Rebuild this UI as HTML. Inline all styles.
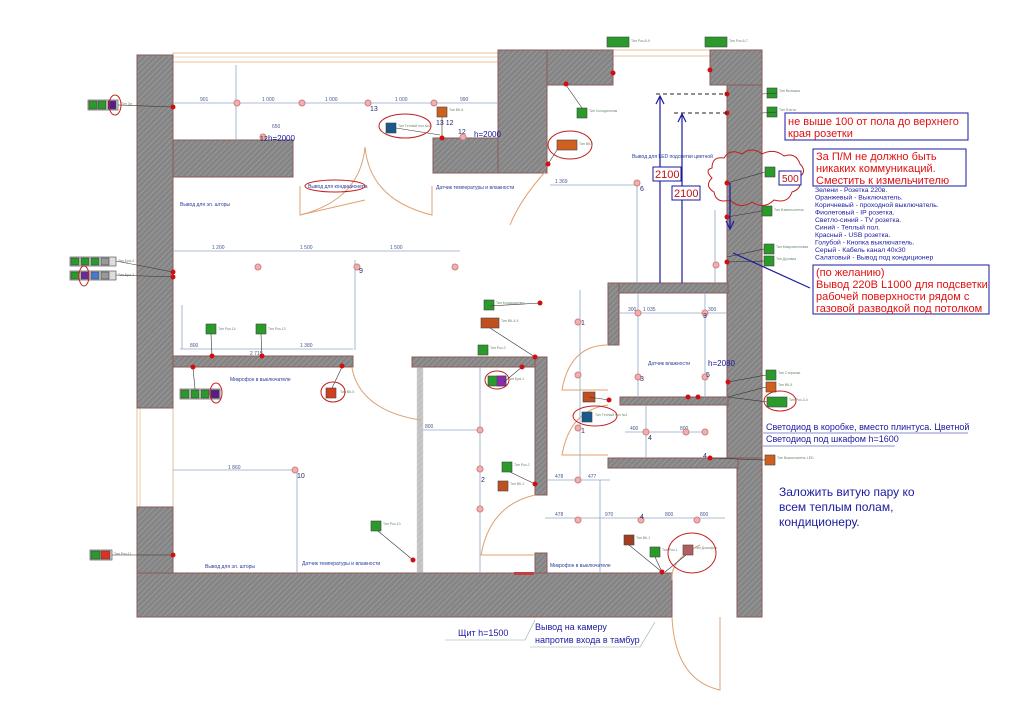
<!DOCTYPE html>
<html><head><meta charset="utf-8"><style>
html,body{margin:0;padding:0;background:#fff;}
svg{display:block;font-family:"Liberation Sans","DejaVu Sans",sans-serif;}
.w{fill:url(#h);stroke:#8a5a5a;stroke-width:1}
.d{stroke:#8fa9c8;stroke-width:0.8;fill:none}
.dt{font-size:5px;fill:#4a5a8a}
.lb{font-size:5px;fill:#2a3a9a}
.sm{font-size:3.5px;fill:#6a8a6a}
.l{fill:#f0b0b0;stroke:#d08080;stroke-width:1}
.rd{fill:#d01010}
.an{font-size:11px;fill:#e01010}
.door{stroke:#e0a070;fill:none;stroke-width:1}
</style></head><body>
<svg width="1024" height="723" viewBox="0 0 1024 723" xmlns="http://www.w3.org/2000/svg">
<defs>
<pattern id="h" patternUnits="userSpaceOnUse" width="4" height="4" patternTransform="rotate(45)">
<rect width="4" height="4" fill="#858585"/><line x1="0" y1="0" x2="0" y2="4" stroke="#aaaaaa" stroke-width="1"/>
</pattern>
</defs>
<rect width="1024" height="723" fill="#fff"/>

<!-- windows -->
<rect x="173" y="53" width="325" height="9" fill="#fff" stroke="#e0b080" stroke-width="0.8"/>
<line x1="173" y1="57" x2="498" y2="57" stroke="#e0b080" stroke-width="0.6"/>
<rect x="613" y="50" width="97" height="6" fill="#fff" stroke="#e0b080" stroke-width="0.8"/>
<rect x="137" y="408" width="36" height="99" fill="#fff" stroke="#e0b080" stroke-width="0.8"/>
<line x1="140" y1="408" x2="140" y2="507" stroke="#e0b080" stroke-width="0.6"/>

<!-- walls -->
<rect class="w" x="137" y="55" width="36" height="353"/>
<rect class="w" x="137" y="507" width="36" height="110"/>
<rect class="w" x="173" y="140" width="120" height="37"/>
<rect class="w" x="433" y="138" width="66" height="35"/>
<rect class="w" x="498" y="50" width="49" height="123"/>
<rect class="w" x="547" y="50" width="66" height="35"/>
<rect class="w" x="710" y="50" width="52" height="35"/>
<rect class="w" x="727" y="85" width="35" height="373"/>
<rect class="w" x="737" y="458" width="25" height="159"/>
<rect class="w" x="137" y="573" width="535" height="44"/>
<rect class="w" x="173" y="356" width="180" height="11"/>
<rect class="w" x="412" y="357" width="135" height="10"/>
<rect class="w" x="535" y="357" width="12" height="138"/>
<rect class="w" x="535" y="553" width="12" height="20"/>
<rect x="417" y="367" width="6" height="206" fill="url(#h)" opacity="0.5" stroke="#aaa" stroke-width="0.5"/>
<rect class="w" x="608" y="283" width="120" height="10"/>
<rect class="w" x="608" y="283" width="11" height="62"/>
<rect class="w" x="620" y="397" width="108" height="8"/>
<rect class="w" x="608" y="458" width="130" height="10"/>
<rect x="514" y="572" width="20" height="3" fill="#c04040"/>

<!-- doors -->
<path class="door" d="M300,186 L300,215 L365,200" /><path class="door" d="M365,147 Q360,200 300,215"/>
<path class="door" d="M365,147 Q370,200 432,215 L432,186"/>
<path class="door" d="M545,172 Q520,200 510,225"/>
<path class="door" d="M352,368 Q360,410 420,420"/>
<path class="door" d="M608,345 Q570,345 562,390 L608,390"/>
<path class="door" d="M608,405 Q570,410 562,455 L608,455"/>
<path class="door" d="M535,495 Q490,505 481,555 L535,555"/>
<path class="door" d="M672,617 Q675,680 720,690 L720,617"/>
<path class="door" d="M700,545 Q670,560 672,580"/>

<!-- dimension lines -->
<g class="d">
<line x1="173" y1="103" x2="498" y2="103"/>
<line x1="173" y1="251" x2="460" y2="251"/>
<line x1="180" y1="349" x2="353" y2="349"/>
<line x1="173" y1="470" x2="297" y2="470"/>
<line x1="297" y1="470" x2="297" y2="573"/>
<line x1="355" y1="260" x2="355" y2="350"/>
<line x1="182" y1="305" x2="182" y2="349"/>
<line x1="236" y1="65" x2="236" y2="140"/>
<line x1="550" y1="185" x2="640" y2="185"/>
<line x1="637" y1="185" x2="637" y2="283"/>
<line x1="580" y1="290" x2="580" y2="480"/>
<line x1="620" y1="313" x2="727" y2="313"/>
<line x1="638" y1="293" x2="638" y2="397"/>
<line x1="705" y1="293" x2="705" y2="397"/>
<line x1="625" y1="432" x2="705" y2="432"/>
<line x1="646" y1="405" x2="646" y2="458"/>
<line x1="423" y1="430" x2="480" y2="430"/>
<line x1="480" y1="367" x2="480" y2="573"/>
<line x1="547" y1="480" x2="610" y2="480"/>
<line x1="545" y1="518" x2="725" y2="518"/>
<line x1="600" y1="480" x2="600" y2="573"/>
<line x1="715" y1="210" x2="715" y2="283"/>
</g>
<g class="dt">
<text x="200" y="101">901</text><text x="262" y="101">1 000</text><text x="325" y="101">1 000</text><text x="395" y="101">1 000</text><text x="460" y="101">990</text>
<text x="212" y="249">1 200</text><text x="300" y="249">1 500</text><text x="390" y="249">1 500</text>
<text x="190" y="347">800</text><text x="250" y="355">2 715</text><text x="300" y="347">1 380</text>
<text x="228" y="469">1 860</text><text x="555" y="183">1 369</text><text x="643" y="311">1 035</text>
<text x="628" y="311">300</text><text x="708" y="311">300</text><text x="425" y="428">800</text>
<text x="555" y="478">478</text><text x="588" y="478">477</text><text x="555" y="516">478</text><text x="605" y="516">970</text><text x="665" y="516">800</text><text x="700" y="516">800</text>
<text x="630" y="430">400</text><text x="680" y="430">800</text><text x="272" y="128">650</text>
</g>

<!-- lights -->
<g>
<circle class="l" cx="237" cy="103" r="3"/><circle class="l" cx="302" cy="103" r="3"/><circle class="l" cx="368" cy="103" r="3"/><circle class="l" cx="434" cy="103" r="3"/>
<circle class="l" cx="263" cy="137" r="3"/><circle class="l" cx="463" cy="137" r="3"/>
<circle class="l" cx="258" cy="267" r="3"/><circle class="l" cx="357" cy="267" r="3"/><circle class="l" cx="455" cy="267" r="3"/>
<circle class="l" cx="295" cy="470" r="3"/>
<circle class="l" cx="480" cy="430" r="3"/><circle class="l" cx="480" cy="469" r="3"/><circle class="l" cx="480" cy="509" r="3"/>
<circle class="l" cx="578" cy="322" r="3"/><circle class="l" cx="578" cy="375" r="3"/><circle class="l" cx="578" cy="428" r="3"/><circle class="l" cx="578" cy="480" r="3"/>
<circle class="l" cx="638" cy="313" r="3"/><circle class="l" cx="705" cy="313" r="3"/><circle class="l" cx="638" cy="377" r="3"/><circle class="l" cx="705" cy="377" r="3"/>
<circle class="l" cx="646" cy="432" r="3"/><circle class="l" cx="686" cy="432" r="3"/><circle class="l" cx="705" cy="432" r="3"/>
<circle class="l" cx="578" cy="520" r="3"/><circle class="l" cx="641" cy="520" r="3"/><circle class="l" cx="697" cy="520" r="3"/>
<circle class="l" cx="637" cy="183" r="3"/><circle class="l" cx="716" cy="265" r="3"/>
</g>
<g font-size="7" fill="#2a2a6a">
<text x="370" y="111">13</text><text x="436" y="125">13 12</text><text x="260" y="141">12</text><text x="458" y="134">12</text>
<text x="359" y="273">9</text><text x="297" y="478">10</text><text x="481" y="482">2</text><text x="581" y="325">1</text><text x="581" y="433">1</text>
<text x="640" y="191">6</text><text x="640" y="381">3</text><text x="703" y="318">3</text><text x="648" y="440">4</text><text x="703" y="458">4</text><text x="640" y="519">4</text><text x="706" y="377">5</text>
</g>
<g font-size="8" fill="#1a1aa0"><text x="268" y="141">h=2000</text><text x="474" y="137">h=2000</text><text x="708" y="366">h=2080</text></g>

<!-- blue labels -->
<g class="lb">
<text x="180" y="206">Вывод для эл. шторы</text><text x="308" y="188">Вывод для кондиционера</text>
<text x="436" y="189">Датчик температуры и влажности</text><text x="632" y="158">Вывод для LED подсветки цветной</text>
<text x="230" y="381">Микрофон в выключателе</text><text x="205" y="568">Вывод для эл. шторы</text><text x="302" y="565">Датчик температуры и влажности</text>
<text x="648" y="365">Датчик влажности</text><text x="550" y="567">Микрофон в выключателе</text>
</g>

<!-- device boxes -->
<g stroke="#444" stroke-width="0.6">
<rect x="88" y="100" width="30" height="10" fill="#ddd"/><rect x="89" y="101" width="8" height="8" fill="#2a9a2a"/><rect x="98" y="101" width="8" height="8" fill="#2a9a2a"/><rect x="108" y="101" width="8" height="8" fill="#5a1a8a"/>
<rect x="70" y="257" width="46" height="9" fill="#ddd"/><rect x="71" y="258" width="8" height="7" fill="#2a9a2a"/><rect x="81" y="258" width="8" height="7" fill="#2a9a2a"/><rect x="91" y="258" width="8" height="7" fill="#2a9a2a"/><rect x="101" y="258" width="8" height="7" fill="#999"/>
<rect x="70" y="271" width="46" height="9" fill="#ddd"/><rect x="71" y="272" width="8" height="7" fill="#2a9a2a"/><rect x="81" y="272" width="8" height="7" fill="#6a2a9a"/><rect x="91" y="272" width="8" height="7" fill="#4a7ad0"/><rect x="101" y="272" width="8" height="7" fill="#999"/>
<rect x="180" y="389" width="40" height="10" fill="#ddd"/><rect x="181" y="390" width="8" height="8" fill="#2a9a2a"/><rect x="191" y="390" width="8" height="8" fill="#2a9a2a"/><rect x="201" y="390" width="8" height="8" fill="#2a9a2a"/><rect x="211" y="390" width="8" height="8" fill="#5a1a8a"/>
<rect x="326" y="388" width="10" height="10" fill="#d04020"/>
<rect x="206" y="324" width="10" height="10" fill="#2a9a2a"/><rect x="256" y="324" width="10" height="10" fill="#2a9a2a"/>
<rect x="371" y="521" width="10" height="10" fill="#2a9a2a"/>
<rect x="90" y="550" width="22" height="10" fill="#ddd"/><rect x="91" y="551" width="9" height="8" fill="#2a9a2a"/><rect x="101" y="551" width="9" height="8" fill="#e03020"/>
<rect x="386" y="123" width="10" height="10" fill="#1a5a8a"/><rect x="437" y="107" width="10" height="10" fill="#d06020"/>
<rect x="607" y="37" width="22" height="10" fill="#2a9a2a"/><rect x="705" y="37" width="22" height="10" fill="#2a9a2a"/>
<rect x="577" y="108" width="10" height="10" fill="#2a9a2a"/><rect x="557" y="140" width="20" height="10" fill="#d06020"/>
<rect x="767" y="88" width="10" height="10" fill="#2a9a2a"/><rect x="767" y="107" width="10" height="10" fill="#2a9a2a"/>
<rect x="765" y="167" width="10" height="10" fill="#2a9a2a"/><rect x="762" y="206" width="10" height="10" fill="#2a9a2a"/>
<rect x="764" y="244" width="10" height="10" fill="#2a9a2a"/><rect x="764" y="256" width="10" height="10" fill="#2a9a2a"/>
<rect x="484" y="300" width="10" height="10" fill="#2a9a2a"/><rect x="481" y="318" width="18" height="10" fill="#c05020"/>
<rect x="478" y="345" width="10" height="10" fill="#2a9a2a"/><rect x="488" y="376" width="18" height="10" fill="#2a9a2a"/><rect x="497" y="376" width="9" height="10" fill="#8a2ab0"/>
<rect x="583" y="392" width="12" height="10" fill="#c05020"/><rect x="582" y="412" width="10" height="10" fill="#1a5a8a"/>
<rect x="502" y="462" width="10" height="10" fill="#2a9a2a"/><rect x="498" y="481" width="10" height="10" fill="#c05020"/>
<rect x="766" y="370" width="10" height="10" fill="#2a9a2a"/><rect x="766" y="382" width="10" height="10" fill="#d06020"/><rect x="767" y="397" width="20" height="10" fill="#2a9a2a"/>
<rect x="765" y="455" width="10" height="10" fill="#d06020"/>
<rect x="624" y="535" width="10" height="10" fill="#a04020"/><rect x="650" y="547" width="10" height="10" fill="#2a9a2a"/><rect x="683" y="545" width="10" height="10" fill="#b06060"/>
</g>
<g class="sm">
<text x="121" y="105">Тип Эл</text><text x="118" y="262">Тип Бра-4</text><text x="118" y="276">Тип Бра-3</text>
<text x="218" y="330">Тип Роз-14</text><text x="268" y="330">Тип Роз-13</text><text x="340" y="393">Тип ВК-5</text>
<text x="383" y="525">Тип Роз-10</text><text x="114" y="555">Тип Роз-11</text><text x="398" y="127">Тип Теплый пол №2</text>
<text x="449" y="111">Тип ВК-6</text><text x="631" y="42">Тип Роз-8-9</text><text x="729" y="42">Тип Роз-6-7</text>
<text x="589" y="112">Тип Холодильник</text><text x="579" y="145">Тип ВК-7</text><text x="779" y="92">Тип Вытяжка</text><text x="779" y="111">Тип Плита</text>
<text x="774" y="211">Тип Измельчитель</text><text x="776" y="248">Тип Микроволновка</text><text x="776" y="260">Тип Духовка</text>
<text x="496" y="304">Тип Кондиционер</text><text x="501" y="322">Тип ВК-4-5</text><text x="490" y="349">Тип Роз-2</text><text x="508" y="380">Тип Бра-1</text>
<text x="595" y="416">Тип Теплый пол №1</text><text x="514" y="466">Тип Роз-2</text><text x="510" y="485">Тип ВК-2</text>
<text x="778" y="374">Тип Стиралка</text><text x="778" y="386">Тип ВК-8</text><text x="789" y="401">Тип Роз-3-4</text><text x="777" y="459">Тип Выключатель LED</text>
<text x="636" y="539">Тип ВК-1</text><text x="662" y="551">Тип Роз-1</text><text x="695" y="549">Тип Домофон</text>
</g>

<!-- connectors -->
<g stroke="#333" stroke-width="0.6">
<line x1="118" y1="105" x2="173" y2="107"/><line x1="116" y1="261" x2="173" y2="272"/><line x1="116" y1="275" x2="173" y2="277"/>
<line x1="112" y1="555" x2="173" y2="555"/><line x1="211" y1="334" x2="212" y2="356"/><line x1="261" y1="334" x2="262" y2="356"/>
<line x1="195" y1="389" x2="193" y2="368"/><line x1="332" y1="388" x2="342" y2="367"/><line x1="378" y1="531" x2="413" y2="560"/>
<line x1="396" y1="128" x2="440" y2="135"/><line x1="442" y1="117" x2="442" y2="138"/><line x1="582" y1="108" x2="566" y2="85"/>
<line x1="557" y1="150" x2="548" y2="164"/><line x1="777" y1="93" x2="762" y2="94"/><line x1="777" y1="112" x2="762" y2="113"/>
<line x1="765" y1="172" x2="727" y2="183"/><line x1="762" y1="211" x2="727" y2="217"/><line x1="764" y1="249" x2="727" y2="257"/><line x1="764" y1="261" x2="727" y2="262"/>
<line x1="490" y1="306" x2="540" y2="303"/><line x1="490" y1="328" x2="535" y2="357"/><line x1="504" y1="382" x2="522" y2="367"/>
<line x1="589" y1="397" x2="609" y2="400"/><line x1="510" y1="472" x2="535" y2="484"/><line x1="766" y1="375" x2="728" y2="382"/>
<line x1="766" y1="387" x2="728" y2="397"/><line x1="767" y1="402" x2="728" y2="397"/><line x1="765" y1="460" x2="710" y2="458"/>
<line x1="629" y1="545" x2="662" y2="572"/><line x1="655" y1="557" x2="662" y2="572"/><line x1="686" y1="555" x2="665" y2="572"/>
</g>
<g class="rd">
<circle cx="173" cy="107" r="2.5"/><circle cx="173" cy="272" r="2.5"/><circle cx="173" cy="277" r="2.5"/><circle cx="173" cy="555" r="2.5"/>
<circle cx="212" cy="356" r="2.5"/><circle cx="262" cy="356" r="2.5"/><circle cx="193" cy="367" r="2.5"/><circle cx="342" cy="366" r="2.5"/><circle cx="413" cy="560" r="2.5"/>
<circle cx="442" cy="138" r="2.5"/><circle cx="566" cy="84" r="2.5"/><circle cx="548" cy="164" r="2.5"/><circle cx="613" cy="73" r="2.5"/><circle cx="710" cy="70" r="2.5"/>
<circle cx="727" cy="94" r="2.5"/><circle cx="727" cy="113" r="2.5"/><circle cx="727" cy="183" r="2.5"/><circle cx="727" cy="217" r="2.5"/><circle cx="727" cy="262" r="2.5"/>
<circle cx="540" cy="303" r="2.5"/><circle cx="535" cy="357" r="2.5"/><circle cx="522" cy="367" r="2.5"/><circle cx="609" cy="400" r="2.5"/><circle cx="535" cy="484" r="2.5"/>
<circle cx="728" cy="382" r="2.5"/><circle cx="688" cy="397" r="2.5"/><circle cx="698" cy="397" r="2.5"/><circle cx="710" cy="458" r="2.5"/><circle cx="662" cy="572" r="2.5"/>
</g>

<!-- red hand ovals -->
<g fill="none" stroke="#c02020" stroke-width="1">
<ellipse cx="115" cy="105" rx="6" ry="10"/><ellipse cx="84" cy="276" rx="5" ry="10"/><ellipse cx="216" cy="393" rx="6" ry="10"/>
<ellipse cx="333" cy="392" rx="12" ry="10"/><ellipse cx="405" cy="126" rx="26" ry="12"/><ellipse cx="335" cy="186" rx="30" ry="6"/>
<ellipse cx="570" cy="145" rx="22" ry="14"/><ellipse cx="497" cy="380" rx="12" ry="9"/><ellipse cx="595" cy="416" rx="22" ry="10"/>
<ellipse cx="780" cy="401" rx="16" ry="10"/><ellipse cx="692" cy="553" rx="24" ry="20"/>
<path d="M712,168 q0,-12 12,-10 q6,-10 18,-4 q10,-8 20,0 q12,-6 22,2 q12,-4 16,8 q8,8 -2,14 q6,10 -6,14 q-4,12 -18,8 q-10,10 -22,2 q-12,8 -22,-2 q-14,4 -16,-8 q-10,-6 -2,-14 q-8,-8 0,-10z"/>
</g>

<!-- 2100 arrows -->
<g stroke="#1a1aa0" stroke-width="1.2">
<line x1="660" y1="97" x2="660" y2="283"/><line x1="682" y1="115" x2="682" y2="283"/>
<line x1="730" y1="183" x2="730" y2="228"/><line x1="810" y1="288" x2="733" y2="253"/>
</g>
<path d="M656,104 L660,96 L664,104 M678,122 L682,114 L686,122 M726,221 L730,229 L734,221" fill="none" stroke="#1a1aa0" stroke-width="1.2"/>
<g stroke="#222" stroke-dasharray="4,3" stroke-width="1"><line x1="656" y1="94" x2="727" y2="94"/><line x1="674" y1="113" x2="727" y2="113"/></g>
<rect x="653" y="167" width="28" height="14" fill="#fff" stroke="#1a1aa0"/><text x="655" y="178" font-size="11" fill="#c01010">2100</text>
<rect x="672" y="186" width="28" height="14" fill="#fff" stroke="#1a1aa0"/><text x="674" y="197" font-size="11" fill="#c01010">2100</text>
<rect x="779" y="171" width="22" height="14" fill="#fff" stroke="#1a1aa0"/><text x="782" y="182" font-size="10" fill="#c01010">500</text>

<!-- annotation boxes -->
<rect x="785" y="113" width="183" height="27" fill="#fff" stroke="#1a1aa0"/>
<text class="an" x="788" y="125">не выше 100 от пола до верхнего</text><text class="an" x="788" y="137">края розетки</text>
<rect x="813" y="149" width="153" height="37" fill="#fff" stroke="#1a1aa0"/>
<text class="an" x="816" y="160">За П/М не должно быть</text><text class="an" x="816" y="172">никаких коммуникаций.</text><text class="an" x="816" y="184">Сместить к измельчителю</text>
<g font-size="6.8" fill="#1a1aa0">
<text x="815" y="192">Зелени - Розетка 220в.</text><text x="815" y="199.5">Оранжевый - Выключатель.</text><text x="815" y="207">Коричневый - проходной выключатель.</text>
<text x="815" y="214.5">Фиолетовый - IP розетка.</text><text x="815" y="222">Светло-синий - TV розетка.</text><text x="815" y="229.5">Синий - Теплый пол.</text>
<text x="815" y="237">Красный - USB розетка.</text><text x="815" y="244.5">Голубой - Кнопка выключатель.</text><text x="815" y="252">Серый - Кабель канал 40х30</text><text x="815" y="259.5">Салатовый - Вывод под кондиционер</text>
</g>
<rect x="813" y="265" width="176" height="49" fill="#fff" stroke="#1a1aa0"/>
<text class="an" x="816" y="276">(по желанию)</text><text class="an" x="816" y="288">Вывод 220В L1000 для подсветки</text>
<text class="an" x="816" y="300">рабочей поверхности рядом с</text><text class="an" x="816" y="312">газовой разводкой под потолком</text>
<g font-size="9" fill="#1a1aa0"><text x="766" y="430">Светодиод в коробке, вместо плинтуса. Цветной</text><text x="766" y="442">Светодиод под шкафом h=1600</text></g>
<line x1="763" y1="433" x2="968" y2="433" stroke="#1a1aa0" stroke-width="0.6"/><line x1="763" y1="446" x2="895" y2="446" stroke="#1a1aa0" stroke-width="0.6"/>
<g font-size="12" fill="#1a1aa0"><text x="779" y="496">Заложить витую пару ко</text><text x="779" y="511">всем теплым полам,</text><text x="779" y="526">кондиционеру.</text></g>
<g font-size="9" fill="#1a1aa0"><text x="458" y="636">Щит h=1500</text><text x="535" y="630">Вывод на камеру</text><text x="535" y="643">напротив входа в тамбур</text></g>
<path d="M445,640 L525,640 L535,620 M530,647 L640,647 L655,622" fill="none" stroke="#8ab0a0" stroke-width="0.6"/>
</svg>
</body></html>
